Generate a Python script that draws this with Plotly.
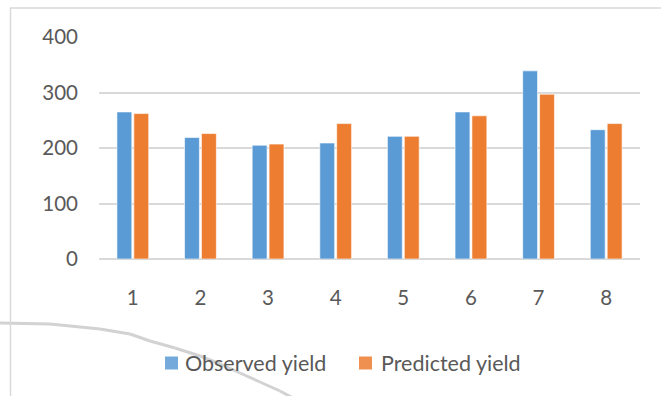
import plotly.graph_objects as go

# Yield per plot: observed vs. model prediction
plots = ["1", "2", "3", "4", "5", "6", "7", "8"]
observed_yield = [265, 219, 205, 209, 221, 265, 339, 233]
predicted_yield = [262, 226, 207, 244, 221, 258, 297, 244]
series_names = ["Observed yield", "Predicted yield"]

W, H = 661, 396
ML, MR, MT, MB = 99, 21, 37, 137
PW, PH = W - ML - MR, H - MT - MB

BLUE = "#5b9bd5"
ORANGE = "#ed7d31"
TEXT = "#595959"
GRID = "#d9d9d9"
FONT = "Lato"


def px(x):
    """Horizontal pixel position -> paper fraction."""
    return (x - ML) / PW


def py(y):
    """Vertical pixel position -> paper fraction."""
    return (H - MB - y) / PH


fig = go.Figure()
for name, vals, col in zip(series_names, [observed_yield, predicted_yield],
                           [BLUE, ORANGE]):
    fig.add_trace(go.Bar(
        name=name, x=plots, y=vals,
        marker=dict(color=col, line=dict(color="rgba(255,255,255,0.6)", width=1)),
    ))

# chart frame (left and top edges)
shapes = [
    dict(type="line", xref="paper", yref="paper",
         x0=px(10.5), x1=px(10.5), y0=py(8), y1=py(400),
         line=dict(color=GRID, width=1.5)),
    dict(type="line", xref="paper", yref="paper",
         x0=px(10), x1=px(665), y0=py(8), y1=py(8),
         line=dict(color=GRID, width=1.5)),
]

# decorative swoosh across the lower-left corner, as short segments
swoosh = [(-2, 323), (50, 324), (100, 329), (130, 334), (150, 341),
          (175, 348), (200, 356), (220, 364), (240, 373), (260, 382),
          (280, 391), (295, 399)]
for (xa, ya), (xb, yb) in zip(swoosh[:-1], swoosh[1:]):
    shapes.append(dict(type="line", xref="paper", yref="paper", layer="below",
                       x0=px(xa), y0=py(ya), x1=px(xb), y1=py(yb),
                       line=dict(color="#d2d2d2", width=3)))

# legend row drawn below the axis: colour key plus label
annotations = []
key_x = [(165, 184), (359, 380)]
for (sx, tx), name, col in zip(key_x, series_names, [BLUE, ORANGE]):
    shapes.append(dict(type="rect", xref="paper", yref="paper",
                       x0=px(sx), x1=px(sx + 13), y0=py(356.5), y1=py(369.5),
                       fillcolor=col, line=dict(width=0), opacity=0.85))
    annotations.append(dict(text=name, xref="paper", yref="paper",
                            x=px(tx - 1), y=py(363), xanchor="left",
                            yanchor="middle", showarrow=False,
                            font=dict(family=FONT, size=21.5, color=TEXT)))

fig.update_layout(
    width=W, height=H,
    margin=dict(l=ML, r=MR, t=MT, b=MB),
    paper_bgcolor="white", plot_bgcolor="white",
    barmode="group", bargap=0.5, bargroupgap=0.12,
    font=dict(family=FONT, size=20, color=TEXT),
    shapes=shapes, annotations=annotations,
    showlegend=False,
)
fig.update_xaxes(
    type="category", showgrid=False, showline=False, zeroline=False,
    ticks="", ticklabelstandoff=24,
    tickfont=dict(family=FONT, size=20.5, color=TEXT),
)
fig.update_yaxes(
    range=[0, 400], dtick=100, showgrid=True, gridcolor=GRID, gridwidth=1.5,
    zeroline=True, zerolinecolor=GRID, zerolinewidth=1.5, showline=False,
    ticks="", ticklabelstandoff=20,
    tickfont=dict(family=FONT, size=20.5, color=TEXT),
)

fig.write_html("out.html")
